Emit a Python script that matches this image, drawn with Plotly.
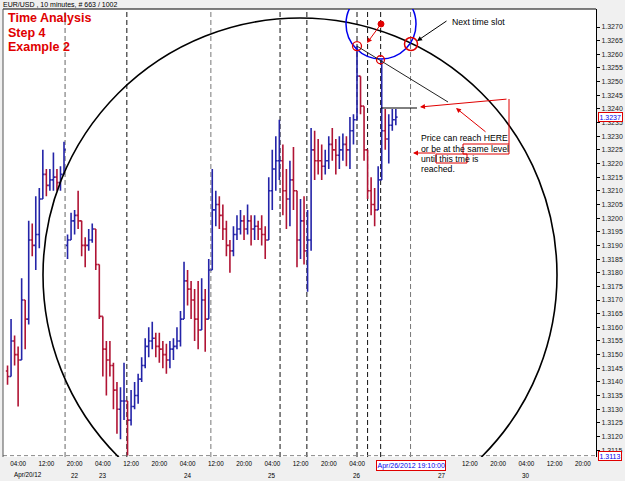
import plotly.graph_objects as go

# ---------------- data (EUR/USD, hourly summary of the 10-minute bars) ----------------
# x = trading hours since Apr 20 2012 00:00 (weekend removed)
bar_hour = list(range(1, 112))

opens = [1.3144, 1.3142, 1.3155, 1.3150, 1.3148, 1.3170, 1.3163, 1.3192, 1.3190, 1.3194,
         1.3207, 1.3216, 1.3212, 1.3214, 1.3215, 1.3213, 1.3216, 1.3190, 1.3192, 1.3199,
         1.3201, 1.3199, 1.3190, 1.3190, 1.3192, 1.3196, 1.3183, 1.3164, 1.3152, 1.3148,
         1.3146, 1.3137, 1.3130, 1.3133, 1.3133, 1.3126, 1.3131, 1.3135, 1.3141, 1.3146,
         1.3153, 1.3155, 1.3156, 1.3153, 1.3152, 1.3150, 1.3148, 1.3152, 1.3153, 1.3155,
         1.3163, 1.3177, 1.3174, 1.3170, 1.3163, 1.3159, 1.3170, 1.3163, 1.3181, 1.3203,
         1.3205, 1.3201, 1.3196, 1.3190, 1.3188, 1.3194, 1.3196, 1.3199, 1.3196, 1.3199,
         1.3196, 1.3197, 1.3196, 1.3194, 1.3192, 1.3210, 1.3218, 1.3221, 1.3221, 1.3210,
         1.3207, 1.3214, 1.3210, 1.3192, 1.3199, 1.3188, 1.3192, 1.3225, 1.3221, 1.3221,
         1.3219, 1.3221, 1.3227, 1.3225, 1.3223, 1.3225, 1.3227, 1.3225, 1.3232, 1.3236,
         1.3252, 1.3241, 1.3225, 1.3210, 1.3205, 1.3203, 1.3214, 1.3232, 1.3229, 1.3234,
         1.3236]

highs = [1.3146, 1.3163, 1.3157, 1.3153, 1.3178, 1.3170, 1.3199, 1.3198, 1.3208, 1.3211,
         1.3225, 1.3218, 1.3218, 1.3224, 1.3218, 1.3219, 1.3228, 1.3194, 1.3202, 1.3203,
         1.3210, 1.3199, 1.3193, 1.3196, 1.3198, 1.3196, 1.3183, 1.3164, 1.3155, 1.3155,
         1.3147, 1.3140, 1.3138, 1.3147, 1.3133, 1.3137, 1.3140, 1.3143, 1.3149, 1.3156,
         1.3160, 1.3162, 1.3158, 1.3158, 1.3155, 1.3154, 1.3155, 1.3156, 1.3160, 1.3166,
         1.3184, 1.3181, 1.3177, 1.3174, 1.3177, 1.3178, 1.3174, 1.3185, 1.3218, 1.3210,
         1.3208, 1.3205, 1.3199, 1.3192, 1.3197, 1.3201, 1.3203, 1.3201, 1.3205, 1.3201,
         1.3201, 1.3199, 1.3201, 1.3197, 1.3215, 1.3225, 1.3230, 1.3236, 1.3227, 1.3218,
         1.3221, 1.3226, 1.3210, 1.3207, 1.3208, 1.3203, 1.3233, 1.3232, 1.3229, 1.3227,
         1.3225, 1.3230, 1.3233, 1.3229, 1.3230, 1.3231, 1.3230, 1.3237, 1.3238, 1.3263,
         1.3252, 1.3241, 1.3225, 1.3215, 1.3211, 1.3219, 1.3258, 1.3240, 1.3238, 1.3240,
         1.3240]

lows = [1.3139, 1.3142, 1.3146, 1.3131, 1.3148, 1.3152, 1.3161, 1.3186, 1.3181, 1.3189,
        1.3207, 1.3208, 1.3210, 1.3210, 1.3210, 1.3210, 1.3216, 1.3185, 1.3192, 1.3194,
        1.3196, 1.3186, 1.3182, 1.3188, 1.3191, 1.3181, 1.3163, 1.3142, 1.3135, 1.3142,
        1.3130, 1.3121, 1.3119, 1.3126, 1.3113, 1.3124, 1.3130, 1.3132, 1.3140, 1.3145,
        1.3149, 1.3152, 1.3149, 1.3147, 1.3145, 1.3143, 1.3145, 1.3148, 1.3152, 1.3153,
        1.3163, 1.3168, 1.3163, 1.3155, 1.3152, 1.3159, 1.3151, 1.3163, 1.3181, 1.3197,
        1.3196, 1.3192, 1.3186, 1.3180, 1.3186, 1.3192, 1.3194, 1.3192, 1.3194, 1.3190,
        1.3192, 1.3192, 1.3190, 1.3185, 1.3192, 1.3203, 1.3210, 1.3214, 1.3201, 1.3196,
        1.3197, 1.3203, 1.3182, 1.3185, 1.3183, 1.3173, 1.3188, 1.3214, 1.3216, 1.3214,
        1.3216, 1.3218, 1.3221, 1.3216, 1.3218, 1.3221, 1.3219, 1.3218, 1.3227, 1.3236,
        1.3238, 1.3221, 1.3207, 1.3201, 1.3197, 1.3203, 1.3214, 1.3225, 1.3220, 1.3232,
        1.3234]

closes = [1.3142, 1.3155, 1.3150, 1.3148, 1.3170, 1.3163, 1.3192, 1.3190, 1.3194, 1.3207,
          1.3216, 1.3212, 1.3214, 1.3215, 1.3213, 1.3216, 1.3225, 1.3192, 1.3199, 1.3201,
          1.3199, 1.3190, 1.3190, 1.3192, 1.3196, 1.3183, 1.3164, 1.3152, 1.3148, 1.3146,
          1.3137, 1.3130, 1.3133, 1.3133, 1.3126, 1.3131, 1.3135, 1.3141, 1.3146, 1.3153,
          1.3155, 1.3156, 1.3153, 1.3152, 1.3150, 1.3148, 1.3152, 1.3153, 1.3155, 1.3163,
          1.3177, 1.3174, 1.3170, 1.3163, 1.3159, 1.3170, 1.3163, 1.3181, 1.3203, 1.3205,
          1.3201, 1.3196, 1.3190, 1.3188, 1.3194, 1.3196, 1.3199, 1.3196, 1.3199, 1.3196,
          1.3197, 1.3196, 1.3194, 1.3192, 1.3210, 1.3218, 1.3221, 1.3221, 1.3210, 1.3207,
          1.3214, 1.3210, 1.3192, 1.3199, 1.3188, 1.3192, 1.3225, 1.3221, 1.3221, 1.3219,
          1.3221, 1.3227, 1.3225, 1.3223, 1.3225, 1.3227, 1.3225, 1.3232, 1.3236, 1.3252,
          1.3241, 1.3225, 1.3210, 1.3205, 1.3203, 1.3214, 1.3232, 1.3229, 1.3234, 1.3236,
          1.3237]

# time axis labels (those under the cursor box are hidden in the reference)
time_tick_hours = [4, 12, 20, 28, 36, 44, 52, 60, 68, 76, 84, 92, 100, 132, 140, 148, 156, 164]
time_tick_text = ["04:00", "12:00", "20:00", "04:00", "12:00", "20:00", "04:00", "12:00", "20:00",
                  "04:00", "12:00", "20:00", "04:00", "12:00", "20:00", "04:00", "12:00", "20:00"]
day_label_hours = [20, 28, 52, 76, 100, 124, 148]
day_labels = ["22", "23", "24", "25", "26", "27", "30"]
first_day_label = "Apr/20/12"

price_ticks = [round(1.3115 + 0.0005 * i, 4) for i in range(32)]
price_tick_text = ["%.4f" % v for v in price_ticks]

# time slot lines (hours) and their colours
slot_hours = [17.3, 34.8, 58.6, 78.2, 85.8, 100.0, 103.0, 106.7, 115.17]
slot_colors = ["#666", "#111", "#777", "#111", "#111", "#111", "#111", "#111", "#777"]

last_price = 1.3237
low_price = 1.3113
cursor_time_label = "Apr/26/2012 19:10:00"
cursor_hour = 115.17

# ---------------- pixel helpers for drawing overlays ----------------
def hx(px):
    return (px - 4) / 3.53

def py(y):
    return 1.3270 - (y - 27) / 27300.0

def pxp(x):
    return (x - 3) / 593.0

def pyp(y):
    return (457 - y) / 448.0

FONT = "Liberation Sans, Arial, sans-serif"
RED = "#e00000"

fig = go.Figure()
fig.add_trace(go.Ohlc(
    x=bar_hour, open=opens, high=highs, low=lows, close=closes,
    increasing=dict(line=dict(color="#2424a8", width=1.6)),
    decreasing=dict(line=dict(color="#b01434", width=1.6)),
    tickwidth=0.48, hoverinfo="skip", showlegend=False,
))

shapes = []
for h, c in zip(slot_hours, slot_colors):
    shapes.append(dict(type="line", xref="x", yref="paper", x0=h, x1=h, y0=0, y1=1,
                       line=dict(color=c, width=1, dash="5px,3px"), layer="below"))
# low-price dashed line
shapes.append(dict(type="line", xref="paper", yref="y", x0=0, x1=1, y0=low_price, y1=low_price,
                   line=dict(color="#888", width=1, dash="4px,3px"), layer="below"))
# frame top / left
shapes.append(dict(type="line", xref="paper", yref="paper", x0=0, x1=1, y0=1, y1=1,
                   line=dict(color="#000", width=1)))
shapes.append(dict(type="line", xref="paper", yref="paper", x0=0, x1=0, y0=0, y1=1,
                   line=dict(color="#555", width=1)))
# big time circle
shapes.append(dict(type="circle", xref="x", yref="y",
                   x0=hx(300 - 257), x1=hx(300 + 257), y0=py(275 + 257), y1=py(275 - 257),
                   line=dict(color="#000", width=1.6)))
# blue circle
shapes.append(dict(type="circle", xref="x", yref="y",
                   x0=hx(381 - 35), x1=hx(381 + 35), y0=py(24 + 35), y1=py(24 - 35),
                   line=dict(color="#0000ee", width=1.5)))
# red centre dot
shapes.append(dict(type="circle", xref="x", yref="y", xsizemode="pixel", ysizemode="pixel",
                   xanchor=hx(381), yanchor=py(24), x0=-3, x1=3, y0=-3, y1=3,
                   fillcolor=RED, line=dict(color=RED, width=1)))
# red open circles on the spikes and at next time slot
shapes.append(dict(type="circle", xref="x", yref="y", xsizemode="pixel", ysizemode="pixel",
                   xanchor=100, yanchor=highs[99], x0=-4.5, x1=4.5, y0=-4.5, y1=4.5,
                   line=dict(color=RED, width=1.3)))
shapes.append(dict(type="circle", xref="x", yref="y", xsizemode="pixel", ysizemode="pixel",
                   xanchor=hx(380.5), yanchor=highs[106], x0=-4, x1=4, y0=-4, y1=4,
                   line=dict(color=RED, width=1.3)))
shapes.append(dict(type="circle", xref="x", yref="y", xsizemode="pixel", ysizemode="pixel",
                   xanchor=hx(411), yanchor=py(44), x0=-6.5, x1=6.5, y0=-6.5, y1=6.5,
                   line=dict(color=RED, width=1.5)))
# diagonal line from first spike
shapes.append(dict(type="line", xref="x", yref="y", x0=100, y0=highs[99], x1=hx(448), y1=py(102),
                   line=dict(color="#222", width=1)))
# level line
shapes.append(dict(type="line", xref="x", yref="y", x0=hx(381), x1=hx(417), y0=py(108), y1=py(108),
                   line=dict(color="#000", width=1)))
# red connector and boxes
shapes.append(dict(type="line", xref="x", yref="y", x0=hx(509), x1=hx(509), y0=py(99), y1=py(144),
                   line=dict(color=RED, width=1)))
shapes.append(dict(type="rect", xref="x", yref="y", x0=hx(463), x1=hx(509), y0=py(154), y1=py(144),
                   line=dict(color=RED, width=1)))
shapes.append(dict(type="rect", xref="x", yref="y", x0=hx(436), x1=hx(467), y0=py(163), y1=py(154),
                   line=dict(color=RED, width=1)))

ann = []
def arrow(xp, yp, ax, ay, color):
    ann.append(dict(x=hx(xp), y=py(yp), xref="x", yref="y", ax=ax, ay=ay, text="",
                    showarrow=True, arrowhead=2, arrowsize=1, arrowwidth=1,
                    arrowcolor=color, standoff=0, startstandoff=0))

arrow(367, 43, 14, -19, RED)
arrow(417, 41, 31, -21, "#000")
arrow(420, 107, 88, -8, RED)
arrow(456, 108, 31, 25, RED)
arrow(413, 153, 24, 0, RED)

def label(xp, yp, text, size=8.7, color="#000"):
    ann.append(dict(x=hx(xp), y=py(yp), xref="x", yref="y", text=text, showarrow=False,
                    xanchor="left", yanchor="middle", font=dict(size=size, color=color, family=FONT)))

label(450, 22, "Next time slot")
label(419, 138, "Price can reach HERE")
label(419, 149, "or be at the same level")
label(419, 159, "until this tme is")
label(419, 169, "reached.")

# header and titles
ann.append(dict(x=pxp(1), y=pyp(4.5), xref="paper", yref="paper", text="EUR/USD , 10 minutes, # 663 / 1002",
                showarrow=False, xanchor="left", yanchor="middle", font=dict(size=7, color="#000", family=FONT)))
for txt, yy in [("Time Analysis", 18), ("Step 4", 33), ("Example 2", 47)]:
    ann.append(dict(x=pxp(6), y=pyp(yy), xref="paper", yref="paper", text="<b>%s</b>" % txt,
                    showarrow=False, xanchor="left", yanchor="middle",
                    font=dict(size=12.5, color=RED, family=FONT)))

# day labels
ann.append(dict(x=hx(12), y=pyp(475), xref="x", yref="paper", text=first_day_label, showarrow=False,
                xanchor="left", yanchor="middle", font=dict(size=6.3, color="#000", family=FONT)))
for h, t in zip(day_label_hours, day_labels):
    ann.append(dict(x=h, y=pyp(475), xref="x", yref="paper", text=t, showarrow=False,
                    xanchor="center", yanchor="middle", font=dict(size=6.3, color="#000", family=FONT)))

# price / time boxes
for v in [last_price, low_price]:
    ann.append(dict(x=pxp(598), y=v, xref="paper", yref="y", text="%.4f" % v, showarrow=False,
                    xanchor="left", yanchor="middle", bgcolor="#fff", bordercolor=RED, borderwidth=1,
                    borderpad=0.5, font=dict(size=7, color="#0000ee", family=FONT)))
ann.append(dict(x=cursor_hour, y=pyp(465), xref="x", yref="paper", text=cursor_time_label, showarrow=False,
                xanchor="center", yanchor="middle", bgcolor="#fff", bordercolor=RED, borderwidth=1,
                borderpad=0.5, font=dict(size=7, color="#0000ee", family=FONT)))

fig.update_layout(
    width=625, height=481,
    margin=dict(l=3, r=29, t=9, b=24),
    paper_bgcolor="#f0f0f0", plot_bgcolor="#ffffff",
    shapes=shapes, annotations=ann, showlegend=False,
    xaxis=dict(range=[hx(3), hx(596)], showgrid=False, zeroline=False, rangeslider=dict(visible=False),
               tickmode="array", tickvals=time_tick_hours, ticktext=time_tick_text,
               ticks="", showline=False, ticklabelstandoff=2,
               tickfont=dict(size=6.3, color="#000", family=FONT)),
    yaxis=dict(range=[py(457), py(9)], side="right", showgrid=False, zeroline=False,
               tickmode="array", tickvals=price_ticks, ticktext=price_tick_text,
               ticks="outside", ticklen=3, tickcolor="#000", showline=True, linecolor="#000", linewidth=1,
               tickfont=dict(size=7, color="#222", family=FONT)),
    hovermode=False,
)

fig.write_html("out.html")
